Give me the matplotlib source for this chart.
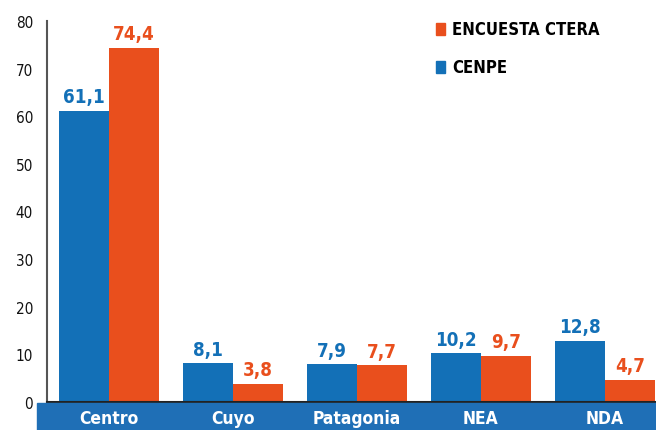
import matplotlib.pyplot as plt
import numpy as np
from matplotlib.patches import Rectangle

regions = ['Centro', 'Cuyo', 'Patagonia', 'NEA', 'NDA']
cenpe = [61.1, 8.1, 7.9, 10.2, 12.8]
ctera = [74.4, 3.8, 7.7, 9.7, 4.7]
yticks = [0, 10, 20, 30, 40, 50, 60, 70, 80]

blue = '#1370B7'
orange = '#E94F1D'
band_blue = '#1F6FB6'

plt.rcParams['font.family'] = ['DejaVu Sans']
plt.rcParams['font.stretch'] = 'condensed'

fig = plt.figure(figsize=(6.56, 4.31), dpi=100)
ax = fig.add_axes([47 / 656, 1 - 403 / 431, 1 - 47 / 656, (403 - 22) / 431])

x = np.arange(len(regions))
w = 0.403
b1 = ax.bar(x - w / 2, cenpe, w, color=blue)
b2 = ax.bar(x + w / 2, ctera, w, color=orange)

# value labels above each bar, comma as decimal separator
for bars, vals, col in [(b1, cenpe, blue), (b2, ctera, orange)]:
    for bar, v in zip(bars, vals):
        ax.text(bar.get_x() + bar.get_width() / 2, v + 1.0, f'{v:.1f}'.replace('.', ','),
                ha='center', va='bottom', color=col, fontsize=13.5, fontweight='bold')

ax.set_xlim(-0.5, len(regions) - 1 + 0.41)
ax.set_ylim(0, 80)
ax.set_yticks(yticks)
ax.tick_params(axis='y', length=0, pad=10, labelsize=11, labelcolor='#111111')
ax.set_xticks([])
for s in ['top', 'right']:
    ax.spines[s].set_visible(False)
ax.spines['left'].set_color('#555555')
ax.spines['left'].set_linewidth(1.5)
ax.spines['bottom'].set_color('#222222')
ax.spines['bottom'].set_linewidth(1.5)

# blue band with region names
fig.patches.append(Rectangle((37 / 656, 0), 1 - 37 / 656, 27 / 431,
                             transform=fig.transFigure, color=band_blue, zorder=0))
for i, r in enumerate(regions):
    xf = (109 + 124 * i) / 656
    fig.text(xf, 12 / 431, r, color='white', fontsize=12.5, fontweight='bold',
             ha='center', va='center')

# legend
ax.add_patch(Rectangle((436 / 656, 1 - 36 / 431), 9 / 656, 12 / 431,
                       transform=fig.transFigure, color=orange, clip_on=False))
ax.add_patch(Rectangle((436 / 656, 1 - 74 / 431), 9 / 656, 12 / 431,
                       transform=fig.transFigure, color=blue, clip_on=False))
fig.text(452 / 656, 1 - 30 / 431, 'ENCUESTA CTERA', fontsize=12, fontweight='bold', va='center')
fig.text(452 / 656, 1 - 68 / 431, 'CENPE', fontsize=12, fontweight='bold', va='center')

plt.savefig('out.png', dpi=100)
